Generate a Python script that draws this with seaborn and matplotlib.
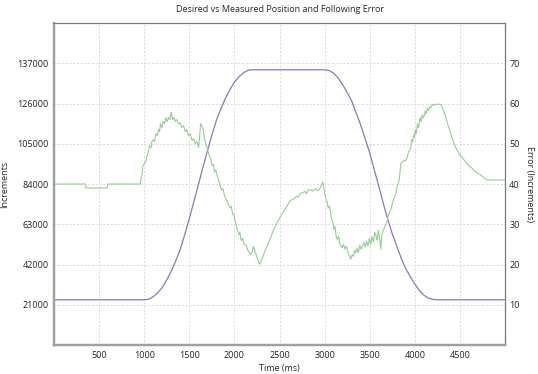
import matplotlib
matplotlib.use("Agg")
import matplotlib.pyplot as plt
import seaborn as sns
import pandas as pd

# Desired position (Increments, left axis)
pos_time = [0, 1000, 1050, 1100, 1150, 1200, 1250, 1300, 1350, 1400, 1450, 1500, 1550,
            1600, 1650, 1700, 1750, 1800, 1850, 1900, 1950, 2000, 2050, 2100, 2150, 2200,
            3000, 3050, 3100, 3150, 3200, 3250, 3300, 3350, 3400, 3450, 3500, 3550, 3600,
            3650, 3700, 3750, 3800, 3850, 3900, 3950, 4000, 4050, 4100, 4150, 4200, 4250, 5000]
pos_value = [23600, 23600, 23900, 25200, 27300, 30000, 34000, 38500, 44000, 50000, 57700, 66000, 74700,
             83600, 92500, 101200, 109500, 117200, 123200, 128700, 133200, 137200, 139900, 142000, 143300, 143600,
             143600, 143200, 141800, 139300, 135800, 131800, 127300, 121000, 114800, 107500, 100200, 91500, 83000,
             74000, 65500, 58000, 51500, 45200, 39800, 35600, 31800, 28500, 26000, 24500, 23800, 23600, 23600]

# Following error (Increments, right axis)
err_time = [0, 350, 355, 590, 595, 955, 965, 975, 985, 1000, 1015, 1030, 1045, 1060, 1075, 1085, 1100,
            1115, 1130, 1145, 1160, 1170, 1180, 1195, 1210, 1225, 1240, 1255, 1270, 1285, 1300, 1315,
            1330, 1345, 1360, 1380, 1400, 1420, 1437, 1455, 1470, 1490, 1510, 1530, 1550, 1567, 1585,
            1604, 1615, 1625, 1640, 1655, 1670, 1689, 1705, 1720, 1735, 1752, 1765, 1780, 1795, 1807,
            1825, 1844, 1860, 1875, 1890, 1905, 1919, 1935, 1950, 1965, 1980, 1993, 2005, 2015, 2025,
            2035, 2048, 2060, 2075, 2090, 2105, 2122, 2135, 2150, 2165, 2178, 2195, 2210, 2225, 2240,
            2255, 2270, 2281, 2300, 2320, 2340, 2363, 2385, 2410, 2437, 2460, 2485, 2511, 2540, 2570,
            2600, 2630, 2660, 2690, 2710, 2733, 2760, 2780, 2800, 2820, 2844, 2870, 2900, 2920, 2937,
            2960, 2981, 2995, 3011, 3025, 3040, 3055, 3067, 3080, 3092, 3104, 3115, 3128, 3141, 3155,
            3170, 3184, 3196, 3210, 3225, 3240, 3252, 3265, 3277, 3289, 3305, 3320, 3332, 3344, 3360,
            3375, 3390, 3405, 3419, 3435, 3450, 3465, 3480, 3495, 3511, 3525, 3540, 3555, 3567, 3580,
            3595, 3610, 3622, 3635, 3650, 3665, 3678, 3695, 3710, 3733, 3750, 3770, 3789, 3800, 3815,
            3830, 3844, 3860, 3880, 3900, 3915, 3930, 3945, 3956, 3965, 3975, 3985, 3993, 4005, 4015,
            4030, 4040, 4048, 4060, 4070, 4085, 4095, 4104, 4115, 4125, 4140, 4150, 4165, 4178, 4195,
            4210, 4230, 4252, 4289, 4310, 4325, 4344, 4360, 4380, 4400, 4420, 4440, 4460, 4474, 4490,
            4510, 4530, 4548, 4570, 4590, 4610, 4641, 4660, 4690, 4710, 4733, 4760, 4780, 4807, 5000]
err_value = [40, 40, 39, 39, 40, 40, 41.5, 42, 44.5, 45, 45.5, 47, 48, 49.5, 49, 50.5, 51,
             50.5, 52.5, 52, 53.5, 53, 55, 54, 55.5, 55, 56.5, 55.5, 56.5, 56, 57.8, 56,
             56.5, 55.5, 56, 55, 55.2, 54, 54.5, 53, 53.5, 52, 52.5, 50.8, 51.2, 50, 50.5,
             49.1, 52, 55, 54.5, 53.5, 51, 49.6, 48.5, 47, 46.5, 44.6, 45, 43, 43.5, 42.2,
             41, 39.3, 38.5, 38.8, 37, 36.5, 35.6, 35, 34, 34.5, 32.5, 32.4, 31, 30.5, 29,
             28.5, 27.4, 28, 26, 26.5, 25, 25, 24.5, 23.5, 23, 22.5, 23, 24.5, 23.5, 22.5,
             21.5, 20.5, 20.1, 21, 22.2, 23.5, 24.6, 25.8, 27.2, 28.7, 29.8, 30.9, 31.9, 33, 34,
             35.2, 36, 36.3, 37, 36.8, 37.7, 37.8, 38.2, 37.6, 38.6, 38.5, 38.3, 38.8, 38.4, 38.5,
             39.5, 40.5, 38.5, 36.5, 35.8, 34, 34.5, 32.8, 31, 30.5, 28.7, 29.5, 27, 26.2, 27,
             25, 24.5, 24.2, 25, 23.8, 24.5, 23.8, 22.5, 22, 21.3, 22.5, 22, 23.5, 22.9, 24,
             23, 24.8, 23.8, 24.6, 25.5, 24.3, 25.8, 24.5, 26.5, 25, 27, 25.5, 28, 27.4, 26,
             28.5, 26.5, 23.8, 27.5, 28.5, 29.2, 29.9, 31, 32.5, 33.6, 35, 36.5, 37.7, 39, 40,
             41.5, 45, 45.5, 45.8, 45.9, 46.5, 48, 48.5, 49.1, 51, 50.5, 52, 51.6, 53.5, 52.5,
             55, 54, 54.9, 56.5, 55.5, 57.2, 56.5, 56.9, 58.2, 57.5, 58.8, 58.2, 59.2, 59, 59.8,
             59.6, 59.8, 59.8, 59.8, 58.8, 57.8, 56.5, 55.2, 53.8, 52.4, 51, 49.8, 48.8, 48.3, 47.5,
             47, 46.5, 45.9, 45.3, 44.8, 44.3, 43.8, 43.2, 42.8, 42.5, 42.2, 41.7, 41.3, 41, 41]

x_ticks = [500, 1000, 1500, 2000, 2500, 3000, 3500, 4000, 4500]
left_ticks = [21000, 42000, 63000, 84000, 105000, 126000, 147000]
left_tick_labels = ["21000", "42000", "63000", "84000", "105000", "126000", "137000"]
right_ticks = [10, 20, 30, 40, 50, 60, 70]

sns.set_style("white")
plt.rcParams["font.family"] = ["Open Sans", "DejaVu Sans"]

pos_df = pd.DataFrame({"t": pos_time, "v": pos_value})
err_df = pd.DataFrame({"t": err_time, "v": err_value})

fig, ax = plt.subplots(figsize=(5.38, 3.74), dpi=100)
fig.subplots_adjust(left=0.1004, right=0.9387, top=0.9385, bottom=0.0775)
ax2 = ax.twinx()

sns.lineplot(data=pos_df, x="t", y="v", ax=ax, color="#9273bb", linewidth=0.9)
sns.lineplot(data=err_df, x="t", y="v", ax=ax2, color="#92d092", linewidth=0.8)

ax.set_xlim(0, 5000)
ax.set_ylim(0, 168000)
ax2.set_ylim(0, 80)

ax.set_xticks(x_ticks)
ax.set_xticklabels([str(t) for t in x_ticks])
ax.set_yticks(left_ticks)
ax.set_yticklabels(left_tick_labels)
ax2.set_yticks(right_ticks)
ax2.set_yticklabels([str(t) for t in right_ticks])

ax.grid(True, color="#d6d6d6", linestyle=(0, (2.5, 2)), linewidth=0.6)
ax.set_axisbelow(True)

ax.tick_params(axis="both", length=0, labelsize=6.5, colors="#222222", pad=4)
ax2.tick_params(axis="y", length=0, labelsize=6.5, colors="#222222", pad=3)

ax.set_xlabel("Time (ms)", fontsize=6.5, labelpad=3)
ax.set_ylabel("Increments", fontsize=6.5, labelpad=6)
ax2.set_ylabel("Error (Increments)", fontsize=6.5, rotation=270, labelpad=10)
ax.set_title("Desired vs Measured Position and Following Error", fontsize=6.5, pad=8)

for a in (ax, ax2):
    a.spines["left"].set_color("#a0a0a0")
    a.spines["left"].set_linewidth(1.6)
    a.spines["bottom"].set_color("#a0a0a0")
    a.spines["bottom"].set_linewidth(1.6)
    a.spines["top"].set_color("#777777")
    a.spines["top"].set_linewidth(0.8)
    a.spines["right"].set_color("#777777")
    a.spines["right"].set_linewidth(0.8)

fig.savefig("out.png", dpi=100)
